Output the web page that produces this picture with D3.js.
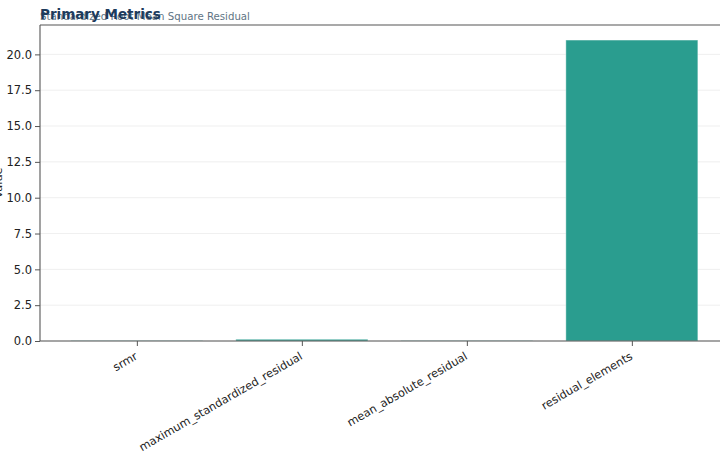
<!DOCTYPE html>
<html>
<head>
<meta charset="utf-8">
<script src="https://cdn.jsdelivr.net/npm/d3@7"></script>
<style>
  html, body { margin: 0; padding: 0; background: #fff; }
  svg { display: block; font-family: "DejaVu Sans", sans-serif; }
</style>
</head>
<body>
<svg id="chart" width="720" height="460"></svg>
<script>
// Bar categories and values.
const categories = ['srmr', 'maximum_standardized_residual', 'mean_absolute_residual', 'residual_elements'];
const values = [0.02, 0.12, 0.02, 21];
const yTicks = [0, 2.5, 5, 7.5, 10, 12.5, 15, 17.5, 20];

const W = 720, H = 460;
const margin = { top: 25, left: 40, bottom: 119 };
const plotBottom = H - margin.bottom;   // 341

const svg = d3.select('#chart');

// Matplotlib-style x limits: bars of width 0.8 plus 5% margins.
const n = categories.length;
const xMin = -0.4 - 0.05 * (n - 0.2);
const xMax = (n - 1) + 0.4 + 0.05 * (n - 0.2);
const pxPerUnit = 165;
const x = d3.scaleLinear()
  .domain([xMin, xMax])
  .range([margin.left - 0.5, margin.left - 0.5 + (xMax - xMin) * pxPerUnit]);

const y = d3.scaleLinear()
  .domain([0, d3.max(values) * 1.05])
  .range([plotBottom, margin.top]);

// Gridlines.
svg.append('g')
  .selectAll('line')
  .data(yTicks)
  .join('line')
  .attr('x1', margin.left)
  .attr('x2', x(xMax))
  .attr('y1', d => y(d))
  .attr('y2', d => y(d))
  .attr('stroke', '#ebebeb')
  .attr('stroke-width', 0.8);

// Bars.
svg.append('g')
  .selectAll('rect')
  .data(values)
  .join('rect')
  .attr('x', (d, i) => x(i - 0.4))
  .attr('width', x(0.4) - x(-0.4))
  .attr('y', d => y(d))
  .attr('height', d => y(0) - y(d))
  .attr('fill', '#2a9d8f')
  .attr('stroke', 'rgba(255,255,255,0.4)')
  .attr('stroke-width', 1);

// Spines.
const spine = '#555';
svg.append('line')
  .attr('x1', margin.left).attr('x2', margin.left)
  .attr('y1', margin.top).attr('y2', plotBottom)
  .attr('stroke', spine).attr('stroke-width', 1.1);
svg.append('line')
  .attr('x1', margin.left).attr('x2', x(xMax))
  .attr('y1', margin.top).attr('y2', margin.top)
  .attr('stroke', spine).attr('stroke-width', 1.1);
svg.append('line')
  .attr('x1', x(xMax)).attr('x2', x(xMax))
  .attr('y1', margin.top).attr('y2', plotBottom)
  .attr('stroke', spine).attr('stroke-width', 1.1);

// Y axis.
const yAxis = svg.append('g')
  .attr('transform', `translate(${margin.left},0)`)
  .call(d3.axisLeft(y).tickValues(yTicks).tickFormat(d3.format('.1f')).tickSize(5).tickPadding(3));
yAxis.select('.domain').remove();
yAxis.selectAll('line').attr('stroke', spine);
yAxis.selectAll('text').attr('font-size', 11.5).attr('fill', '#222').attr('font-family', 'DejaVu Sans');

// X axis.
const xAxis = svg.append('g')
  .attr('transform', `translate(0,${plotBottom})`)
  .call(d3.axisBottom(x).tickValues(d3.range(n)).tickFormat(i => categories[i]).tickSize(5).tickPadding(3));
xAxis.select('.domain')
  .attr('d', `M${margin.left},0H${x(xMax)}`)
  .attr('stroke', spine).attr('stroke-width', 1.1);
xAxis.selectAll('line').attr('stroke', spine);
xAxis.selectAll('text')
  .attr('font-size', 11.3)
  .attr('fill', '#222')
  .attr('font-family', 'DejaVu Sans')
  .attr('text-anchor', 'end')
  .attr('dy', '0.35em')
  .attr('transform', 'translate(-1,14) rotate(-30)')
  .attr('y', 0)
  .attr('x', 0);

// Y label (mostly clipped by the left edge).
svg.append('text')
  .attr('transform', `translate(1.5,${(margin.top + plotBottom) / 2}) rotate(-90)`)
  .attr('text-anchor', 'middle')
  .attr('font-size', 11.3)
  .attr('fill', '#222')
  .text('Value');

// Subtitle then title (title drawn on top).
svg.append('text')
  .attr('x', 40).attr('y', 20)
  .attr('font-size', 10.2)
  .attr('fill', '#5f7585')
  .text('Standardized Root Mean Square Residual');
svg.append('text')
  .attr('x', 40).attr('y', 19)
  .attr('font-size', 13.5)
  .attr('font-weight', 'bold')
  .attr('fill', '#1d3b5c')
  .text('Primary Metrics');
</script>
</body>
</html>
